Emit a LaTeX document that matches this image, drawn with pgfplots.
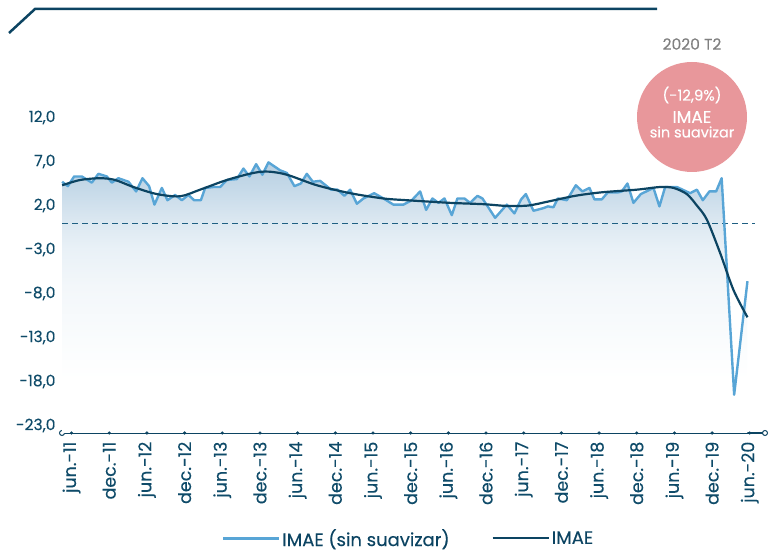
\documentclass[border=0pt]{standalone}
\usepackage{pgfplots}
\pgfplotsset{compat=1.18}
\usepackage{pgfplotstable}
\usepackage{fontspec}
\setmainfont{Poppins}[FakeBold=0.3]
\usetikzlibrary{arrows.meta}
\definecolor{dark}{RGB}{12,68,98}
\definecolor{tickc}{RGB}{15,75,105}
\definecolor{lblue}{RGB}{88,165,214}
\definecolor{dashc}{RGB}{30,95,130}
\definecolor{circ}{RGB}{232,151,155}
\definecolor{grayt}{RGB}{128,128,128}
\definecolor{sA}{RGB}{250,252,253}
\definecolor{sB}{RGB}{243,247,250}
\definecolor{sC}{RGB}{233,241,247}
\definecolor{sD}{RGB}{220,232,241}
\definecolor{sE}{RGB}{198,218,233}
\definecolor{sF}{RGB}{183,207,225}
\pgfdeclareverticalshading{areashade}{100bp}{color(0bp)=(white); color(35bp)=(white); color(42bp)=(sA); color(52bp)=(sB); color(59bp)=(sC); color(64bp)=(sD); color(70bp)=(sE); color(75bp)=(sF); color(100bp)=(sF)}

\pgfplotstableread{
t v
0.00 4.7
0.91 4.2
1.91 5.3
3.14 5.3
4.73 4.6
5.78 5.6
7.12 5.3
7.91 4.6
8.96 5.1
10.56 4.7
11.78 3.6
12.79 5.1
13.85 4.2
14.70 2.1
15.88 4.0
16.77 2.6
17.99 3.2
19.06 2.6
20.11 3.2
21.02 2.6
22.09 2.6
22.77 4.0
24.09 4.1
25.16 4.1
26.23 4.9
27.82 5.0
28.87 6.2
29.82 5.3
30.89 6.7
31.89 5.5
32.85 6.9
34.71 6.0
35.78 5.7
36.99 4.2
38.01 4.5
38.96 5.6
39.92 4.7
41.08 4.8
42.83 3.8
43.84 3.8
44.95 3.1
45.86 3.8
46.93 2.2
47.98 2.8
49.68 3.4
51.16 2.8
52.75 2.1
54.35 2.1
55.68 2.6
57.01 3.6
57.96 1.5
58.96 2.8
59.92 2.3
60.88 2.8
62.05 0.9
62.94 2.8
64.06 2.8
64.97 2.3
66.13 3.1
66.93 2.8
68.95 0.6
70.81 2.1
72.02 1.1
73.09 2.7
73.84 3.3
75.05 1.4
76.64 1.7
77.34 1.9
78.23 1.8
78.93 2.8
80.37 2.6
81.80 4.3
82.85 3.6
83.97 4.0
84.76 2.7
85.94 2.7
86.90 3.5
88.58 3.5
89.12 3.6
90.02 4.5
90.97 2.3
92.15 3.3
94.16 4.0
95.11 1.9
96.02 4.1
97.88 4.1
100.00 3.4
101.07 3.8
102.02 2.6
103.07 3.6
104.14 3.6
105.02 5.1
107.01 -19.5
109.13 -6.6
}\blue

\pgfplotstableread{
t v
0.00 4.3
2.87 4.9
6.05 5.1
8.44 4.9
11.35 4.1
15.08 3.3
18.79 3.05
21.97 3.8
26.23 4.9
30.46 5.7
32.85 5.85
35.78 5.5
40.56 4.3
45.86 3.4
51.16 2.8
54.89 2.6
61.78 2.3
67.09 2.15
70.81 1.95
74.25 2.0
77.39 2.45
81.69 3.1
85.94 3.5
91.51 3.8
95.22 4.1
97.34 4.0
99.47 3.3
101.07 2.0
102.66 0.4
104.78 -3.4
106.90 -7.6
109.13 -10.7
}\smooth

\begin{document}
\begin{tikzpicture}
\useasboundingbox (0,0) rectangle (777pt,554pt);
\draw[dark, line width=2.5pt] (9pt,521pt) -- (35pt,545pt) -- (657pt,545pt);
\begin{axis}[
  at={(59pt,121pt)}, anchor=south west,
  scale only axis, width=709pt, height=315.5pt,
  xmin=-0.5, xmax=112.4, ymin=-23.85, ymax=12,
  clip=false,
  axis x line=bottom, axis y line*=left,
  y axis line style={draw=none},
  x axis line style={dark, line width=1.2pt, {Circle[open,length=6pt,width=6pt,fill=white,line width=1pt]}-{Circle[open,length=6pt,width=6pt,fill=white,line width=1pt]}},
  xtick style={draw=none}, ytick style={draw=none},
  xtick={1.5,7.5,...,109.5},
  xticklabels={jun.-11,dec.-11,jun.-12,dec.-12,jun.-13,dec.-13,jun.-14,dec.-14,jun.-15,dec.-15,jun.-16,dec.-16,jun.-17,dec.-17,jun.-18,dec.-18,jun.-19,dec.-19,jun.-20},
  x tick label style={rotate=90, anchor=east, font=\fontsize{17.5}{17.5}\selectfont, text=tickc, xshift=-3pt},
  ytick={-23,-18,-13,-8,-3,2,7,12},
  y tick label style={font=\fontsize{15.5}{15.5}\selectfont, text=tickc},
  /pgf/number format/assume math mode=true,
  yticklabel={\pgfmathprintnumber[fixed,fixed zerofill,precision=1,use comma]{\tick}},
  legend style={at={(0.493,-0.334)}, anchor=center, draw=none, fill=none,
    legend columns=2, font=\fontsize{18}{18}\selectfont, text=dark,
    /tikz/every even column/.append style={column sep=40pt}},
  legend image code/.code={\draw[#1] (0pt,0pt) -- (56pt,0pt);},
]
\addplot[forget plot, draw=none, shading=areashade] table[x=t,y=v]{\blue} |- (axis cs:0,-23.85) -- cycle;
\addplot[forget plot, dashc, line width=1.2pt, dash pattern=on 6pt off 4pt] coordinates {(0,0) (110.3,0)};
\addplot[lblue, line width=2.4pt, line join=round] table[x=t,y=v]{\blue};
\addlegendentry{IMAE (sin suavizar)}
\addplot[dark, line width=2.2pt, smooth] table[x=t,y=v]{\smooth};
\addlegendentry{IMAE}
\addplot[forget plot, only marks, mark=*, mark size=1.4pt, dark] coordinates {(1.5,-23.85) (7.5,-23.85) (13.5,-23.85) (19.5,-23.85) (25.5,-23.85) (31.5,-23.85) (37.5,-23.85) (43.5,-23.85) (49.5,-23.85) (55.5,-23.85) (61.5,-23.85) (67.5,-23.85) (73.5,-23.85) (79.5,-23.85) (85.5,-23.85) (91.5,-23.85) (97.5,-23.85) (103.5,-23.85) (109.5,-23.85)};
\end{axis}
\node[text=grayt, font=\fontsize{15.5}{15.5}\selectfont] at (692pt,510pt) {2020 T2};
\fill[circ] (692pt,437pt) circle (55pt);
\node[text=white, font=\fontsize{15}{15}\selectfont] at (692pt,459pt) {(-12,9\%)};
\node[text=white, font=\fontsize{17}{17}\selectfont] at (692pt,437pt) {IMAE};
\node[text=white, font=\fontsize{14.5}{14.5}\selectfont] at (692pt,422pt) {sin suavizar};
\end{tikzpicture}
\end{document}
